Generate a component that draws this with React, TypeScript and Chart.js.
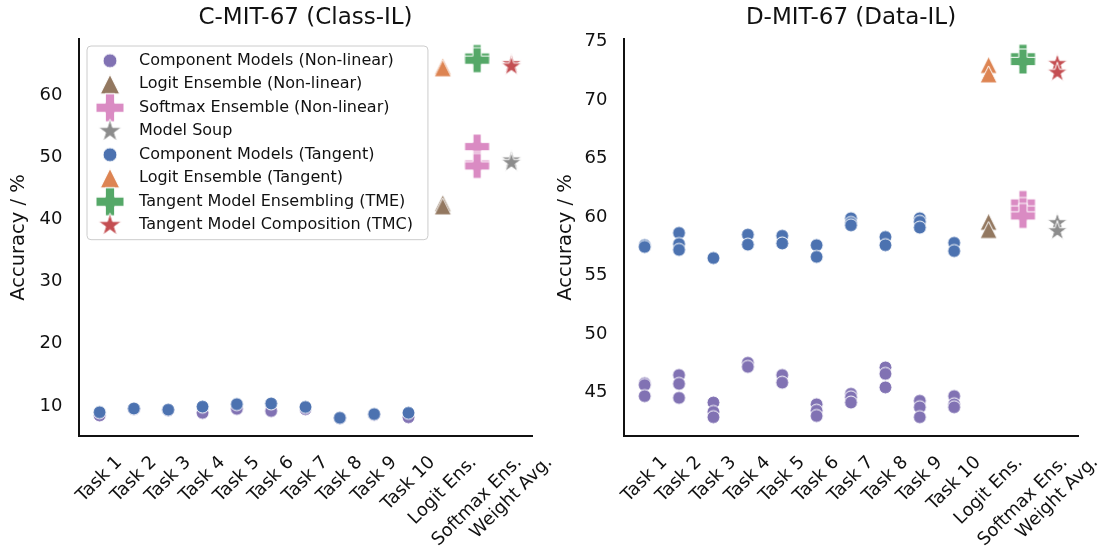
import React, { useEffect, useRef } from 'react';
import { Chart, registerables } from 'chart.js';

Chart.register(...registerables);

const FONT = "'DejaVu Sans', 'Liberation Sans', sans-serif";
const TEXT = '#111111';

// ---------- categories / ticks ----------
const xLabels = ['Task 1', 'Task 2', 'Task 3', 'Task 4', 'Task 5', 'Task 6', 'Task 7', 'Task 8', 'Task 9', 'Task 10', 'Logit Ens.', 'Softmax Ens.', 'Weight Avg.'];
const xTickValues = [0, 1, 2, 3, 4, 5, 6, 7, 8, 9, 10, 11, 12];
const classYTicks = [10, 20, 30, 40, 50, 60];
const dataYTicks = [45, 50, 55, 60, 65, 70, 75];

// ---------- series meta ----------
const seriesNames = [
  'Component Models (Non-linear)',
  'Logit Ensemble (Non-linear)',
  'Softmax Ensemble (Non-linear)',
  'Model Soup',
  'Component Models (Tangent)',
  'Logit Ensemble (Tangent)',
  'Tangent Model Ensembling (TME)',
  'Tangent Model Composition (TMC)',
];
const seriesColors = ['#8172B3', '#937860', '#DA8BC3', '#8C8C8C', '#4C72B0', '#DD8452', '#55A868', '#C44E52'];
const seriesShapes = ['circle', 'triangle', 'plus', 'star', 'circle', 'triangle', 'plus', 'star'];
const seriesCategory = [null, 'Logit Ens.', 'Softmax Ens.', 'Weight Avg.', null, 'Logit Ens.', 'Softmax Ens.', 'Weight Avg.'];

// ---------- C-MIT-67 (Class-IL) ----------
const classNonLinearComponents = [[8.5], [9.5], [9.3], [8.9], [9.55], [9.2], [9.5], [8.05], [8.6], [8.2]];
const classTangentComponents = [[9.0], [9.6], [9.4], [9.9], [10.3], [10.4], [9.85], [8.1], [8.7], [8.9]];
const classLogitNonLinear = [42.6, 42.1];
const classSoftmaxNonLinear = [51.7, 48.9, 48.6];
const classModelSoup = [49.5, 49.1];
const classLogitTangent = [64.6, 64.3];
const classTME = [66.1, 65.6];
const classTMC = [65.0, 64.6];

// ---------- D-MIT-67 (Data-IL) ----------
const dataNonLinearComponents = [
  [45.8, 45.65, 44.7], [46.5, 45.75, 44.55], [44.15, 43.35, 42.9], [47.55, 47.2], [46.5, 45.85],
  [44.0, 43.45, 43.0], [44.9, 44.6, 44.15], [47.15, 46.6, 45.45], [44.3, 43.75, 42.9], [44.7, 44.0, 43.75],
];
const dataTangentComponents = [
  [57.6, 57.45], [58.65, 57.7, 57.2], [56.5], [58.5, 57.65], [58.4, 57.75],
  [57.6, 56.6], [59.9, 59.5, 59.3], [58.3, 57.6], [59.9, 59.6, 59.1], [57.8, 57.1],
];
const dataLogitNonLinear = [59.6, 58.9];
const dataSoftmaxNonLinear = [61.2, 60.6, 60.1];
const dataModelSoup = [59.5, 58.8];
const dataLogitTangent = [73.0, 72.2];
const dataTME = [73.7, 73.3];
const dataTMC = [73.1, 72.35];

// ---------- marker drawing ----------
type Shape = 'circle' | 'triangle' | 'plus' | 'star';
const plotSizes: Record<string, number> = { circle: 13, triangle: 17, plus: 25, star: 20 };
const legendSizes: Record<string, number> = { circle: 14, triangle: 19.5, plus: 28, star: 23 };

function makeMarker(shape: Shape, color: string, size: number): HTMLCanvasElement {
  const dim = Math.ceil(size) + 4;
  const c = document.createElement('canvas');
  c.width = dim;
  c.height = dim;
  const ctx = c.getContext('2d')!;
  const cx = dim / 2;
  const cy = dim / 2;
  const h = size / 2;
  ctx.beginPath();
  if (shape === 'circle') {
    ctx.arc(cx, cy, h, 0, Math.PI * 2);
  } else if (shape === 'triangle') {
    ctx.moveTo(cx, cy - h);
    ctx.lineTo(cx + h, cy + h);
    ctx.lineTo(cx - h, cy + h);
    ctx.closePath();
  } else if (shape === 'plus') {
    const u = size / 6;
    const p = [[-1, -3], [1, -3], [1, -1], [3, -1], [3, 1], [1, 1], [1, 3], [-1, 3], [-1, 1], [-3, 1], [-3, -1], [-1, -1]];
    p.forEach(([a, b], i) => (i ? ctx.lineTo(cx + a * u, cy + b * u) : ctx.moveTo(cx + a * u, cy + b * u)));
    ctx.closePath();
  } else {
    const r = size / 1.902;
    const ri = r * 0.381966;
    for (let i = 0; i < 10; i++) {
      const ang = -Math.PI / 2 + (i * Math.PI) / 5;
      const rr = i % 2 ? ri : r;
      const px = cx + rr * Math.cos(ang);
      const py = cy + rr * Math.sin(ang);
      if (i === 0) ctx.moveTo(px, py);
      else ctx.lineTo(px, py);
    }
    ctx.closePath();
  }
  ctx.fillStyle = color;
  ctx.fill();
  ctx.lineWidth = 1;
  ctx.strokeStyle = '#ffffff';
  ctx.stroke();
  return c;
}

// ---------- plugins ----------
const labelShiftPlugin = {
  id: 'labelShift',
  beforeDraw(chart: any) {
    const scale = chart.scales.x;
    const items = scale.getLabelItems(chart.chartArea);
    const ctx = chart.ctx;
    items.forEach((item: any) => {
      if (item.__shifted) return;
      ctx.save();
      ctx.font = item.font.string;
      const w = ctx.measureText(String(item.label)).width;
      ctx.restore();
      const rot = item.options.rotation || 0;
      const t = item.options.translation;
      item.options.translation = [t[0] + (Math.cos(rot) * w) / 2, t[1]];
      item.__shifted = true;
    });
  },
};

function makeLegendPlugin(markers: HTMLCanvasElement[]) {
  return {
    id: 'boxLegend',
    afterDraw(chart: any) {
      const ctx = chart.ctx;
      const area = chart.chartArea;
      const labels: string[] = chart.data.datasets.map((d: any) => d.label);
      ctx.save();
      ctx.font = `16px ${FONT}`;
      const maxW = Math.max(...labels.map((l) => ctx.measureText(l).width));
      const bx = area.left + 8;
      const by = area.top + 7;
      const rowH = 23.5;
      const first = 14.7;
      const bw = 52 + maxW + 15;
      const bh = first + rowH * (labels.length - 1) + 14.5;
      const rad = 4;
      ctx.beginPath();
      ctx.moveTo(bx + rad, by);
      ctx.lineTo(bx + bw - rad, by);
      ctx.arcTo(bx + bw, by, bx + bw, by + rad, rad);
      ctx.lineTo(bx + bw, by + bh - rad);
      ctx.arcTo(bx + bw, by + bh, bx + bw - rad, by + bh, rad);
      ctx.lineTo(bx + rad, by + bh);
      ctx.arcTo(bx, by + bh, bx, by + bh - rad, rad);
      ctx.lineTo(bx, by + rad);
      ctx.arcTo(bx, by, bx + rad, by, rad);
      ctx.closePath();
      ctx.fillStyle = 'rgba(255,255,255,0.8)';
      ctx.fill();
      ctx.strokeStyle = '#cccccc';
      ctx.lineWidth = 1;
      ctx.stroke();
      labels.forEach((l, i) => {
        const y = by + first + i * rowH;
        const m = markers[i];
        ctx.drawImage(m, bx + 23 - m.width / 2, y - m.height / 2);
        ctx.fillStyle = TEXT;
        ctx.textBaseline = 'middle';
        ctx.textAlign = 'left';
        ctx.fillText(l, bx + 52, y);
      });
      ctx.restore();
    },
  };
}

// ---------- panel ----------
type PanelProps = {
  title: string;
  components: [number[][], number[][]];
  ensembles: number[][]; // logitNL, softNL, soup, logitT, tme, tmc
  yMin: number;
  yMax: number;
  yTicks: number[];
  left: number;
  width: number;
  yAxisWidth: number;
  rightPad: number;
  yTitlePad: number;
  legend: boolean;
};

function Panel(props: PanelProps) {
  const ref = useRef<HTMLCanvasElement>(null);
  useEffect(() => {
    const [nl, tg] = props.components;
    const ens = props.ensembles;
    const seriesValues: (number[][] | number[])[] = [nl, ens[0], ens[1], ens[2], tg, ens[3], ens[4], ens[5]];
    const datasets = seriesNames.map((name, i) => {
      const cat = seriesCategory[i];
      let data: { x: number; y: number }[] = [];
      if (cat === null) {
        (seriesValues[i] as number[][]).forEach((group, ti) => group.forEach((v) => data.push({ x: ti, y: v })));
      } else {
        const xi = xLabels.indexOf(cat);
        data = (seriesValues[i] as number[]).map((v) => ({ x: xi, y: v }));
      }
      return {
        label: name,
        data,
        pointStyle: makeMarker(seriesShapes[i] as Shape, seriesColors[i], plotSizes[seriesShapes[i]]),
        pointRadius: 6,
        pointHoverRadius: 6,
        backgroundColor: seriesColors[i],
        borderColor: '#ffffff',
        clip: false as any,
        order: seriesNames.length - i,
      };
    });
    const legendMarkers = seriesShapes.map((s, i) => makeMarker(s as Shape, seriesColors[i], legendSizes[s]));
    const plugins: any[] = [labelShiftPlugin];
    if (props.legend) plugins.push(makeLegendPlugin(legendMarkers));

    const chart = new Chart(ref.current!, {
      type: 'scatter',
      data: { datasets: datasets as any },
      plugins,
      options: {
        animation: false,
        responsive: false,
        events: [],
        layout: { padding: { left: 0, right: props.rightPad, top: 0, bottom: 0 } },
        plugins: {
          legend: { display: false },
          tooltip: { enabled: false },
          title: {
            display: true,
            text: props.title,
            color: TEXT,
            fullSize: false,
            font: { size: 23, family: FONT, weight: 'normal' },
            padding: { top: 4, bottom: 7.4 },
          },
        },
        scales: {
          x: {
            type: 'linear',
            min: -0.6,
            max: 12.6,
            grid: { display: false, drawTicks: false },
            border: { display: true, color: TEXT, width: 2 },
            afterBuildTicks: (s: any) => {
              s.ticks = xTickValues.map((v) => ({ value: v }));
            },
            afterFit: (s: any) => {
              s.height = 120;
            },
            ticks: {
              autoSkip: false,
              minRotation: 45,
              maxRotation: 45,
              padding: 16,
              color: TEXT,
              font: { size: 18, family: FONT },
              callback: (v: any) => xLabels[v] ?? '',
            },
          },
          y: {
            type: 'linear',
            min: props.yMin,
            max: props.yMax,
            grid: { display: false, drawTicks: false },
            border: { display: true, color: TEXT, width: 2 },
            afterBuildTicks: (s: any) => {
              s.ticks = props.yTicks.map((v) => ({ value: v }));
            },
            afterFit: (s: any) => {
              s.width = props.yAxisWidth;
            },
            ticks: {
              padding: 16.5,
              color: TEXT,
              font: { size: 18, family: FONT },
            },
            title: {
              display: true,
              text: 'Accuracy / %',
              color: TEXT,
              font: { size: 19.5, family: FONT },
              padding: { top: props.yTitlePad, bottom: 0 },
            },
          },
        },
      } as any,
    });
    return () => chart.destroy();
  }, []);
  return (
    <canvas
      ref={ref}
      width={props.width}
      height={556}
      style={{ position: 'absolute', left: props.left, top: 0, width: props.width, height: 556 }}
    />
  );
}

export default function App() {
  return (
    <div style={{ position: 'absolute', left: 0, top: 0, width: 1102, height: 556, background: '#ffffff', overflow: 'hidden' }}>
      <Panel
        title="C-MIT-67 (Class-IL)"
        components={[classNonLinearComponents, classTangentComponents]}
        ensembles={[classLogitNonLinear, classSoftmaxNonLinear, classModelSoup, classLogitTangent, classTME, classTMC]}
        yMin={5.18}
        yMax={69.0}
        yTicks={classYTicks}
        left={0}
        width={600}
        yAxisWidth={79}
        rightPad={68}
        yTitlePad={7}
        legend={true}
      />
      <Panel
        title="D-MIT-67 (Data-IL)"
        components={[dataNonLinearComponents, dataTangentComponents]}
        ensembles={[dataLogitNonLinear, dataSoftmaxNonLinear, dataModelSoup, dataLogitTangent, dataTME, dataTMC]}
        yMin={41.29}
        yMax={75.22}
        yTicks={dataYTicks}
        left={551}
        width={551}
        yAxisWidth={73}
        rightPad={24}
        yTitlePad={3.5}
        legend={false}
      />
    </div>
  );
}
